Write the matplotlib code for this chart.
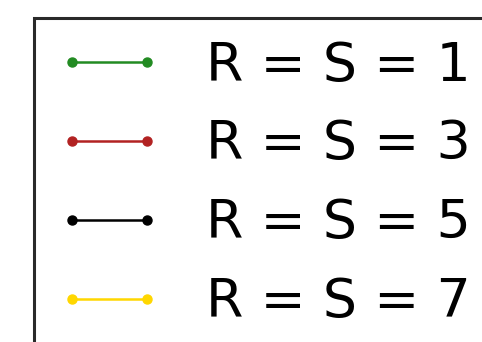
import matplotlib
matplotlib.use("Agg")
import matplotlib.pyplot as plt

# legend entries: R and S values with their line colours
rs_values = [1, 3, 5, 7]
line_colors = ["forestgreen", "firebrick", "black", "gold"]
labels = [f"R = S = {v}" for v in rs_values]

fig = plt.figure(figsize=(4.82, 3.42), dpi=100)
ax = fig.add_axes([0, 0, 1, 1])
ax.set_axis_off()

handles = []
for color, label in zip(line_colors, labels):
    h, = ax.plot([], [], color=color, marker="o", markersize=6.5, linewidth=1.8, label=label)
    handles.append(h)

leg = fig.legend(handles=handles, loc="upper left",
                 bbox_to_anchor=(34 / 482, 1 - 18 / 342),
                 borderaxespad=0, numpoints=2, fontsize=38.8,
                 labelspacing=0.5, handletextpad=0.8,
                 fancybox=False, framealpha=1, edgecolor="#2a2a2a")
leg.get_frame().set_linewidth(2.2)

fig.savefig("out.png", dpi=100)
